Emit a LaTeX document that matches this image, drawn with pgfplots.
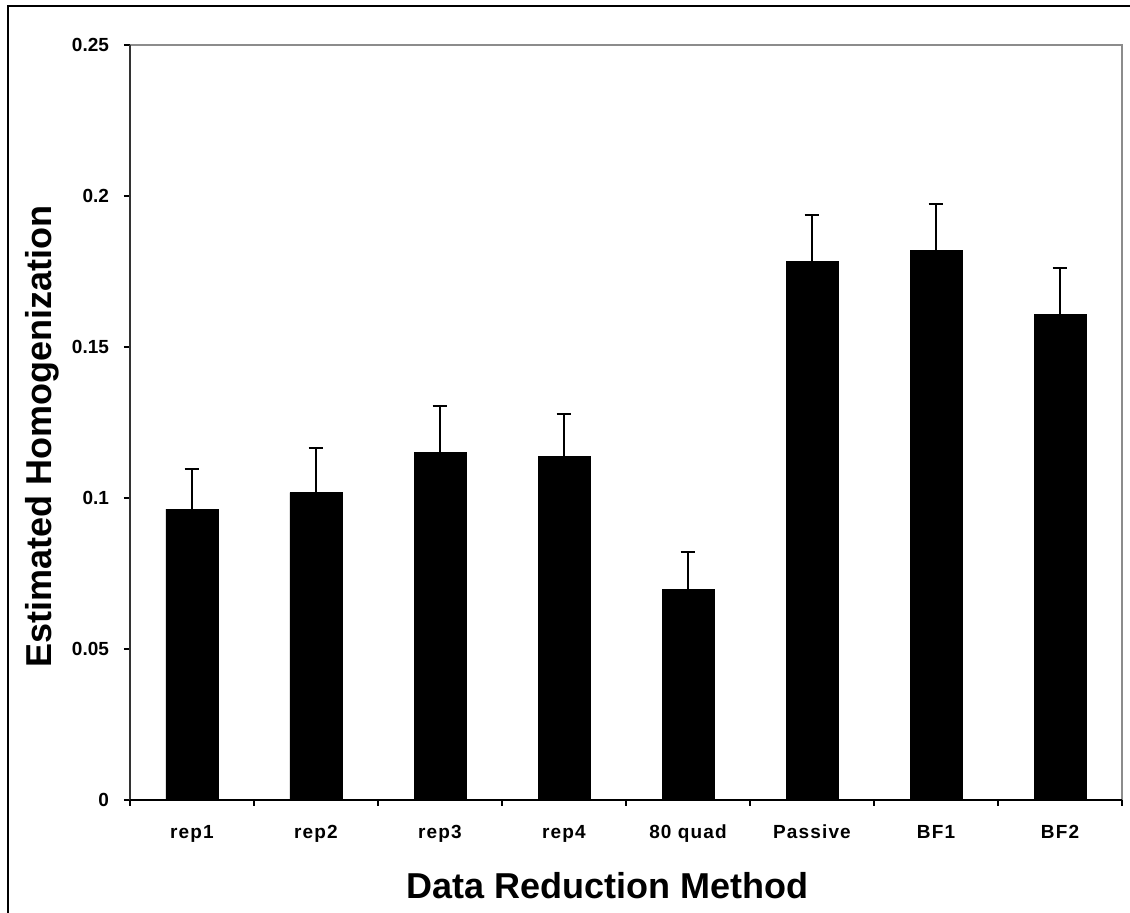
\documentclass[border=0pt]{standalone}
\usepackage{pgfplots}
\pgfplotsset{compat=1.18}
\usepackage{fontspec}
\setmainfont{Liberation Sans}
\begin{document}
\begin{tikzpicture}
\useasboundingbox (0,0) rectangle (565pt,456.5pt);
\draw[line width=1pt] (4pt,-5pt) -- (4pt,453.5pt) -- (570pt,453.5pt);
\begin{axis}[
  at={(65pt,56.5pt)}, anchor=south west,
  width=496pt, height=377.5pt, scale only axis,
  xmin=-0.5, xmax=7.5, ymin=0, ymax=0.25,
  ybar, bar width=26pt,
  axis line style={draw=none},
  xtick={0,...,7},
  xticklabels={rep1,rep2,rep3,rep4,80 quad,Passive,BF1,BF2},
  minor xtick={-0.5,0.5,1.5,2.5,3.5,4.5,5.5,6.5,7.5},
  major x tick style={draw=none},
  minor x tick style={black, line width=0.6pt},
  ytick={0,0.05,0.1,0.15,0.2,0.25},
  yticklabels={0,0.05,0.1,0.15,0.2,0.25},
  major y tick style={black, line width=0.6pt},
  tick align=outside, xtick pos=bottom, ytick pos=left,
  major tick length=3pt, minor tick length=3pt,
  yticklabel style={font=\bfseries\fontsize{9.5}{11}\selectfont, xshift=-4pt},
  xticklabel style={font=\bfseries\fontsize{9.5}{11}\selectfont\addfontfeatures{LetterSpace=6}, yshift=-6pt},
  xlabel={Data Reduction Method},
  ylabel={Estimated Homogenization},
  label style={font=\bfseries\fontsize{18}{20}\selectfont},
  xlabel style={at={(axis description cs:0.481,-0.114)}, anchor=center},
  ylabel style={at={(axis description cs:-0.0887,0.481)}, anchor=center},
  clip=false,
]
\addplot[fill=black, draw=black,
  error bars/.cd, y dir=plus, y explicit,
  error mark=|,
  error bar style={line width=1pt, black},
  error mark options={line width=1pt, mark size=3.7pt, black}]
  coordinates {
  (0,0.0963) +- (0,0.0134)
  (1,0.1018) +- (0,0.0148)
  (2,0.1150) +- (0,0.0155)
  (3,0.1137) +- (0,0.0141)
  (4,0.0697) +- (0,0.0124)
  (5,0.1784) +- (0,0.0154)
  (6,0.1820) +- (0,0.0155)
  (7,0.1607) +- (0,0.0155)
  };
\draw[gray!90, line width=0.75pt] (rel axis cs:0,1) -- (rel axis cs:1,1) -- (rel axis cs:1,0);
\draw[black!80, line width=0.75pt] (rel axis cs:0,1) -- (rel axis cs:0,0);
\draw[black, line width=0.75pt] (rel axis cs:0,0) -- (rel axis cs:1,0);
\end{axis}
\end{tikzpicture}
\end{document}
